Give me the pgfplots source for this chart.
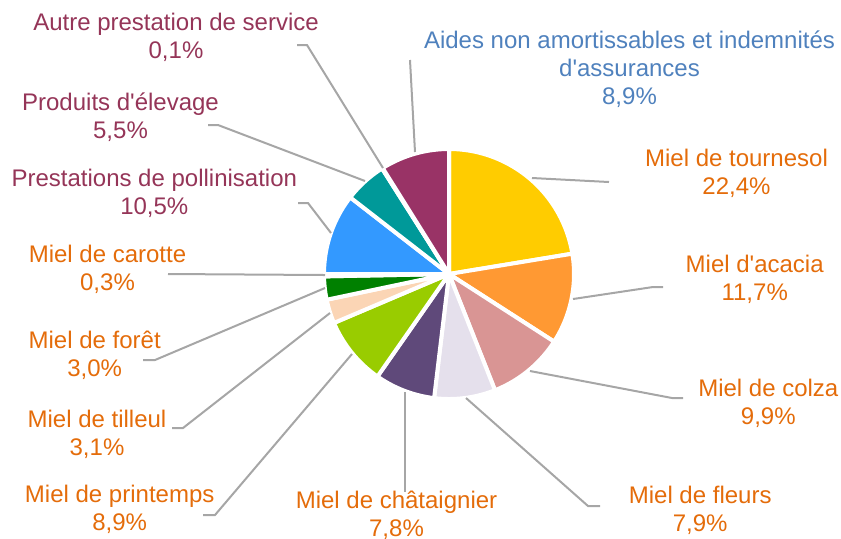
\documentclass[border=0pt]{standalone}
\usepackage{pgfplots}
\usepackage{pgfplotstable}
\pgfplotsset{compat=1.18}
\usepackage{fontspec}
\setmainfont{Liberation Sans}
\definecolor{cOr}{HTML}{E46C0A}
\definecolor{cMar}{HTML}{953558}
\definecolor{cBl}{HTML}{4F81BD}
\definecolor{cLine}{HTML}{A6A6A6}
\definecolor{sTour}{HTML}{FFCC00}
\definecolor{sAcac}{HTML}{FF9933}
\definecolor{sColz}{HTML}{D99594}
\definecolor{sFleu}{HTML}{E5E0EC}
\definecolor{sChat}{HTML}{5F497A}
\definecolor{sPrin}{HTML}{99CC00}
\definecolor{sTill}{HTML}{FBD5B5}
\definecolor{sFore}{HTML}{008000}
\definecolor{sCaro}{HTML}{FDEADA}
\definecolor{sPoll}{HTML}{3399FF}
\definecolor{sElev}{HTML}{009999}
\definecolor{sAutr}{HTML}{7F7F7F}
\definecolor{sAide}{HTML}{993366}
\newcommand{\q}{\textquotesingle}
\tikzset{lab/.style={font=\fontsize{12}{14}\selectfont, align=center}}

% share (%) of each item, clockwise from 12 o'clock
\pgfplotstableread{
value col
22.4 sTour
11.7 sAcac
9.9  sColz
7.9  sFleu
7.8  sChat
8.9  sPrin
3.1  sTill
3.0  sFore
0.3  sCaro
10.5 sPoll
5.5  sElev
0.1  sAutr
8.9  sAide
}\piedata

\begin{document}
\begin{tikzpicture}
\begin{axis}[
  name=ax,
  width=420.5pt, height=269pt, scale only axis,
  xmin=0, xmax=841, ymin=0, ymax=538, y dir=reverse,
  hide axis, clip=false,
]
\def\cum{0}
\pgfplotsforeachungrouped \i in {0,...,12}{%
  \pgfplotstablegetelem{\i}{value}\of\piedata
  \let\v\pgfplotsretval
  \pgfplotstablegetelem{\i}{col}\of\piedata
  \let\c\pgfplotsretval
  \pgfmathsetmacro\a{-90+3.6*\cum}%
  \pgfmathsetmacro\cum{\cum+\v}%
  \pgfmathsetmacro\b{-90+3.6*\cum}%
  \edef\temp{\noexpand\addplot[fill=\c, draw=white, line width=2pt, line join=round, domain=\a:\b, samples=80, variable=\noexpand\t] ({449+125*cos(\noexpand\t)},{274+125*sin(\noexpand\t)}) -- (axis cs:449,274) -- cycle;}%
  \temp
}

% leader lines
\addplot[cLine, line width=1pt] coordinates {(532,178) (609,182)};
\addplot[cLine, line width=1pt] coordinates {(573,299) (653,287) (663,287)};
\addplot[cLine, line width=1pt] coordinates {(530,371) (672,398) (683,398)};
\addplot[cLine, line width=1pt] coordinates {(466,398) (588,506) (600,506)};
\addplot[cLine, line width=1pt] coordinates {(405,392) (405,492)};
\addplot[cLine, line width=1pt] coordinates {(352,354) (215,515) (203,515)};
\addplot[cLine, line width=1pt] coordinates {(330,313) (183,428) (172,428)};
\addplot[cLine, line width=1pt] coordinates {(325,288) (155,360) (143,360)};
\addplot[cLine, line width=1pt] coordinates {(325,275) (168,274)};
\addplot[cLine, line width=1pt] coordinates {(331,233) (308,203) (298,203)};
\addplot[cLine, line width=1pt] coordinates {(365,181) (218,125) (208,125)};
\addplot[cLine, line width=1pt] coordinates {(383,168) (307,45) (297,45)};
\addplot[cLine, line width=1pt] coordinates {(415,152) (410,60)};

% labels
\node[lab, text=cMar] at (axis cs:176,37.7) {Autre prestation de service\\0,1\%};
\node[lab, text=cMar] at (axis cs:120.5,116.7) {Produits d\q élevage\\5,5\%};
\node[lab, text=cMar] at (axis cs:154.3,193.8) {Prestations de pollinisation\\10,5\%};
\node[lab, text=cBl] at (axis cs:629.5,69.6) {Aides non amortissables et indemnités\\d\q assurances\\8,9\%};
\node[lab, text=cOr] at (axis cs:736.5,173.3) {Miel de tournesol\\22,4\%};
\node[lab, text=cOr] at (axis cs:754.7,279) {Miel d\q acacia\\11,7\%};
\node[lab, text=cOr] at (axis cs:768.3,403.2) {Miel de colza\\9,9\%};
\node[lab, text=cOr] at (axis cs:700.2,510.8) {Miel de fleurs\\7,9\%};
\node[lab, text=cOr] at (axis cs:396.5,515.5) {Miel de châtaignier\\7,8\%};
\node[lab, text=cOr] at (axis cs:119.7,509.5) {Miel de printemps\\8,9\%};
\node[lab, text=cOr] at (axis cs:97,434.5) {Miel de tilleul\\3,1\%};
\node[lab, text=cOr] at (axis cs:94.7,355.5) {Miel de forêt\\3,0\%};
\node[lab, text=cOr] at (axis cs:107.5,269) {Miel de carotte\\0,3\%};
\end{axis}
\pgfresetboundingbox
\useasboundingbox (ax.south west) rectangle (ax.north east);
\end{tikzpicture}
\end{document}
